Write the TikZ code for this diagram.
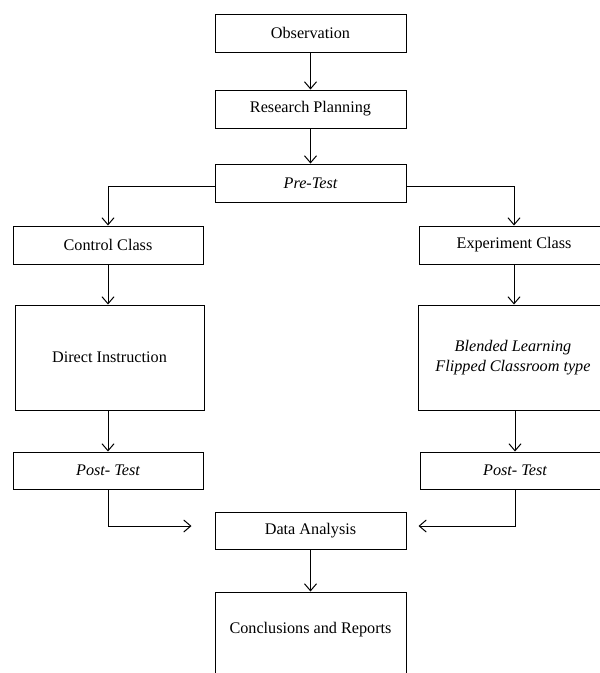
\documentclass[tikz,border=0pt]{standalone}
\usepackage{fontspec}
\setmainfont{Liberation Serif}[Ligatures=TeX]
\usetikzlibrary{arrows.meta}
\begin{document}
\begin{tikzpicture}[x=1pt,y=-1pt,
  box/.style={draw=black,line width=1pt,minimum width=191pt,minimum height=38pt,inner sep=0pt,align=center,font=\fontsize{16.2}{20.5}\selectfont},
  conn/.style={draw=black,line width=1pt,-{Straight Barb[length=7pt,width=12pt,line width=1pt]}}]
\useasboundingbox (0,0) rectangle (600,673);
\fill[white] (0,0) rectangle (600,673);
\clip (0,0) rectangle (600,673);
\node[box] (obs) at (310.5,33) {Observation};
\node[box] (rp) at (310.5,109) {Research Planning};
\node[box] (pre) at (310.5,183) {\itshape Pre-Test};
\node[box,minimum width=190pt] (cc) at (108,245) {Control Class};
\node[box,minimum width=190pt] (ec) at (514,245) {Experiment Class};
\node[box,minimum width=189pt,minimum height=105pt] (di) at (109.5,357.5) {Direct Instruction};
\node[box,minimum width=190pt,minimum height=105pt] (bl) at (513,357.5) {\itshape Blended Learning\\\itshape Flipped Classroom type};
\node[box,minimum width=190pt,minimum height=37pt] (pl) at (108,470.5) {\itshape Post- Test};
\node[box,minimum width=190pt,minimum height=37pt] (pr) at (515,470.5) {\itshape Post- Test};
\node[box,minimum height=37pt] (da) at (310.5,530.5) {Data Analysis};
\node[box,minimum height=84pt,text depth=12pt] (cr) at (310.5,634) {Conclusions and Reports};
\draw[conn] (obs) -- (rp);
\draw[conn] (rp) -- (pre);
\draw[conn] ([yshift=-3pt]pre.west) -| (cc.north);
\draw[conn] ([yshift=-3pt]pre.east) -| (ec.north);
\draw[conn] (cc.south) -- (cc.south |- di.north);
\draw[conn] (ec.south) -- (ec.south |- bl.north);
\draw[conn] (pl.north |- di.south) -- (pl.north);
\draw[conn] (pr.north |- bl.south) -- (pr.north);
\draw[conn,shorten >=23pt] (pl.south) |- ([yshift=4.5pt]da.west);
\draw[conn,shorten >=12pt] (pr.south) |- ([yshift=4.5pt]da.east);
\draw[conn] (da) -- (cr);
\end{tikzpicture}
\end{document}
